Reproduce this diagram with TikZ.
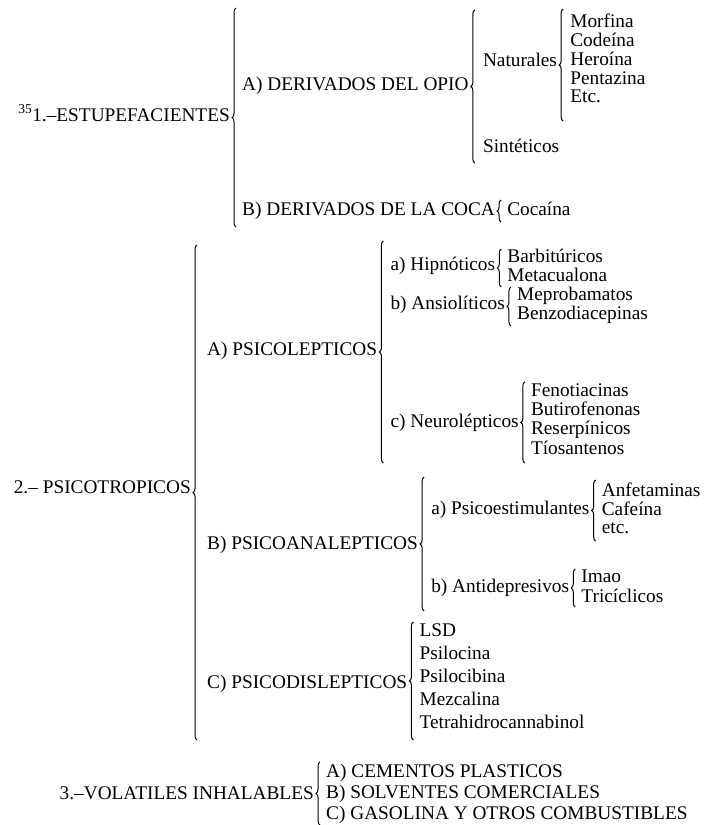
\documentclass[tikz,border=0pt]{standalone}
\usepackage{fontspec}
\setmainfont{Liberation Serif}
\usetikzlibrary{decorations.pathreplacing}
\usetikzlibrary{positioning}
\usetikzlibrary{calc}

\begin{document}
\begin{tikzpicture}[x=1pt,y=-1pt]

\tikzstyle{headBox}=[anchor=east,inner sep=0pt,text height=13pt,text depth=4pt,font=\fontsize{19.3}{19}\selectfont];
\tikzstyle{itemBox}=[anchor=west,inner sep=0pt,text height=13pt,text depth=4pt,font=\fontsize{19.3}{19}\selectfont];
\tikzstyle{bracket}=[decorate,decoration={brace,amplitude=4pt},line width=1pt];

\useasboundingbox (0,0) rectangle (706,825);

%% 1.- estupefacientes
\node [headBox] (est) at (230,117) {\textsuperscript{35}1.–ESTUPEFACIENTES};
\coordinate (bEst) at ($(est.east)+(6,0)$);
\draw [bracket] (bEst |- 0,227) -- (bEst |- 0,8);

\node [itemBox] (derA) at ($(bEst |- 0,86)+(6,0)$) {A) DERIVADOS DEL OPIO};
\coordinate (bDerA) at ($(derA.east)+(6,0)$);
\draw [bracket] (bDerA |- 0,163) -- (bDerA |- 0,10);

\node [itemBox] (nat) at ($(bDerA |- 0,62)+(8,0)$) {Naturales};
\coordinate (bNat) at ($(nat.east)+(6,0)$);
\draw [bracket] (bNat |- 0,121) -- (bNat |- 0,9);
\foreach \n/\t/\y in {mor/Morfina/23,cod/Codeína/42,her/Heroína/61,pen/Pentazina/80,etcA/Etc./98}{
	\node [itemBox] (\n) at ($(bNat |- 0,\y)+(7,0)$) {\t};
};
\node [itemBox] (sint) at ($(bDerA |- 0,148)+(8,0)$) {Sintéticos};

\node [itemBox] (derB) at ($(bEst |- 0,211)+(6,0)$) {B) DERIVADOS DE LA COCA};
\coordinate (bDerB) at ($(derB.east)+(6,0)$);
\draw [bracket] (bDerB |- 0,222) -- (bDerB |- 0,200);
\node [itemBox] (coc) at ($(bDerB |- 0,211)+(6,0)$) {Cocaína};

%% 2.- psicotropicos
\node [headBox] (psi) at (191,489) {2.– PSICOTROPICOS};
\coordinate (bPsi) at ($(psi.east)+(6,0)$);
\draw [bracket] (bPsi |- 0,740) -- (bPsi |- 0,245);

\node [itemBox] (psA) at ($(bPsi |- 0,351)+(10,0)$) {A) PSICOLEPTICOS};
\coordinate (bPsA) at ($(psA.east)+(6,0)$);
\draw [bracket] (bPsA |- 0,463) -- (bPsA |- 0,241);

\node [itemBox] (hip) at ($(bPsA |- 0,266)+(7,0)$) {a) Hipnóticos};
\coordinate (bHip) at ($(hip.east)+(6,0)$);
\draw [bracket] (bHip |- 0,287) -- (bHip |- 0,249);
\foreach \n/\t/\y in {barb/Barbitúricos/258,meta/Metacualona/277}{
	\node [itemBox] (\n) at ($(bHip |- 0,\y)+(6,0)$) {\t};
};

\node [itemBox] (ans) at ($(bPsA |- 0,305)+(7,0)$) {b) Ansiolíticos};
\coordinate (bAns) at ($(ans.east)+(6,0)$);
\draw [bracket] (bAns |- 0,326) -- (bAns |- 0,287);
\foreach \n/\t/\y in {mepr/Meprobamatos/296,benz/Benzodiacepinas/315}{
	\node [itemBox] (\n) at ($(bAns |- 0,\y)+(6,0)$) {\t};
};

\node [itemBox] (neu) at ($(bPsA |- 0,423)+(7,0)$) {c) Neurolépticos};
\coordinate (bNeu) at ($(neu.east)+(6,0)$);
\draw [bracket] (bNeu |- 0,463) -- (bNeu |- 0,382);
\foreach \n/\t/\y in {feno/Fenotiacinas/392,buti/Butirofenonas/411,rese/Reserpínicos/430,tios/Tíosantenos/450}{
	\node [itemBox] (\n) at ($(bNeu |- 0,\y)+(6,0)$) {\t};
};

\node [itemBox] (psB) at ($(bPsi |- 0,545)+(10,0)$) {B) PSICOANALEPTICOS};
\coordinate (bPsB) at ($(psB.east)+(6,0)$);
\draw [bracket] (bPsB |- 0,611) -- (bPsB |- 0,477);

\node [itemBox] (pse) at ($(bPsB |- 0,510)+(7,0)$) {a) Psicoestimulantes};
\coordinate (bPse) at ($(pse.east)+(6,0)$);
\draw [bracket] (bPse |- 0,541) -- (bPse |- 0,480);
\foreach \n/\t/\y in {anfe/Anfetaminas/492,cafe/Cafeína/511,etcB/etc./529}{
	\node [itemBox] (\n) at ($(bPse |- 0,\y)+(6,0)$) {\t};
};

\node [itemBox] (ant) at ($(bPsB |- 0,588)+(7,0)$) {b) Antidepresivos};
\coordinate (bAnt) at ($(ant.east)+(6,0)$);
\draw [bracket] (bAnt |- 0,607) -- (bAnt |- 0,569);
\foreach \n/\t/\y in {imao/Imao/578,tric/Tricíclicos/598}{
	\node [itemBox] (\n) at ($(bAnt |- 0,\y)+(6,0)$) {\t};
};

\node [itemBox] (psC) at ($(bPsi |- 0,684)+(10,0)$) {C) PSICODISLEPTICOS};
\coordinate (bPsC) at ($(psC.east)+(6,0)$);
\draw [bracket] (bPsC |- 0,740) -- (bPsC |- 0,622);
\foreach \n/\t/\y in {lsd/LSD/632,psil/Psilocina/655,psib/Psilocibina/678,mezc/Mezcalina/701,tetr/Tetrahidrocannabinol/724}{
	\node [itemBox] (\n) at ($(bPsC |- 0,\y)+(6,0)$) {\t};
};

%% 3.- volatiles
\node [headBox] (vol) at (314,795) {3.–VOLATILES INHALABLES};
\coordinate (bVol) at ($(vol.east)+(6,0)$);
\draw [bracket] (bVol |- 0,825) -- (bVol |- 0,762);
\foreach \n/\t/\y in {cem/A) CEMENTOS PLASTICOS/773,solv/B) SOLVENTES COMERCIALES/794,gaso/C) GASOLINA Y OTROS COMBUSTIBLES/815}{
	\node [itemBox] (\n) at ($(bVol |- 0,\y)+(6,0)$) {\t};
};

\end{tikzpicture}
\end{document}
